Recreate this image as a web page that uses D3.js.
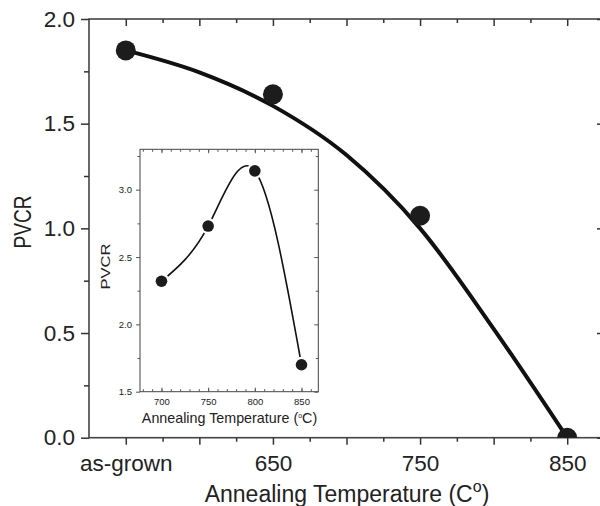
<!DOCTYPE html>
<html>
<head>
<meta charset="utf-8">
<script src="https://cdn.jsdelivr.net/npm/d3@7"></script>
<style>
  body { margin: 0; background: #fff; }
  svg { display: block; font-family: "Liberation Sans", Arial, sans-serif; }
  .axis path { display: none; }
  .axis line { stroke: #333; stroke-width: 1.5; }
  .axis text { fill: #222; }
</style>
</head>
<body>
<svg></svg>
<script>
// chart values
var mainTemps = [550, 650, 750, 850];          // 550 stands for "as-grown"
var mainPVCR = [1.85, 1.64, 1.06, 0.0];

// fitted trend line, read at a few points along the drawn curve
var fitTemps = [550, 600, 650, 700, 750, 800, 850];
var fitPVCR = [1.85, 1.745, 1.585, 1.35, 1.00, 0.52, 0.0];

var mainXTicks = [550, 650, 750, 850];
var mainXLabels = ["as-grown", "650", "750", "850"];
var mainYTicks = [0.0, 0.5, 1.0, 1.5, 2.0];

// inset
var insetTemps = [700, 750, 800, 850];
var insetPVCR = [2.32, 2.73, 3.14, 1.70];
var insetXTicks = [700, 750, 800, 850];
var insetYTicks = [1.5, 2.0, 2.5, 3.0];

var screenWidth = 600,
    screenHeight = 506,
    margin = {"top": 19, "left": 89, "bottom": 437.7, "right": 604};

var svg = d3.select("svg")
            .attr("width", screenWidth)
            .attr("height", screenHeight);

// main scales
var xScale = d3.scaleLinear().domain([525, 875]).range([margin.left, margin.right]),
    yScale = d3.scaleLinear().domain([0, 2]).range([margin.bottom, margin.top]);

svg.append("clipPath")
   .attr("id", "plotClip")
   .append("rect")
   .attr("x", margin.left)
   .attr("y", margin.top)
   .attr("width", margin.right - margin.left)
   .attr("height", margin.bottom - margin.top);

// frame
svg.append("rect")
   .attr("x", margin.left)
   .attr("y", margin.top)
   .attr("width", margin.right - margin.left)
   .attr("height", margin.bottom - margin.top)
   .attr("fill", "none")
   .attr("stroke", "#444")
   .attr("stroke-width", 1.6);

var labelFor = function(d) {
  var i = mainXTicks.indexOf(d);
  return i < 0 ? "" : mainXLabels[i];
};

// bottom axis: major every 50, minor every 25
svg.append("g")
   .attr("class", "axis")
   .attr("transform", "translate(0," + margin.bottom + ")")
   .call(d3.axisBottom(xScale).tickValues(d3.range(575, 851, 50)).tickSize(4).tickFormat(""));
svg.append("g")
   .attr("class", "axis")
   .attr("transform", "translate(0," + margin.bottom + ")")
   .call(d3.axisBottom(xScale).tickValues(d3.range(550, 851, 50)).tickSize(7).tickPadding(10).tickFormat(labelFor))
   .selectAll("text").style("font-size", "22.5px");

// top axis, ticks inward
svg.append("g")
   .attr("class", "axis")
   .attr("transform", "translate(0," + margin.top + ")")
   .call(d3.axisTop(xScale).tickValues(d3.range(575, 851, 50)).tickSize(-4).tickFormat(""));
svg.append("g")
   .attr("class", "axis")
   .attr("transform", "translate(0," + margin.top + ")")
   .call(d3.axisTop(xScale).tickValues(d3.range(550, 851, 50)).tickSize(-7).tickFormat(""));

// left axis
svg.append("g")
   .attr("class", "axis")
   .attr("transform", "translate(" + margin.left + ",0)")
   .call(d3.axisLeft(yScale).tickValues(d3.range(0.25, 2, 0.5)).tickSize(5).tickFormat(""));
svg.append("g")
   .attr("class", "axis")
   .attr("transform", "translate(" + margin.left + ",0)")
   .call(d3.axisLeft(yScale).tickValues(mainYTicks).tickSize(8).tickPadding(6).tickFormat(d3.format(".1f")))
   .selectAll("text").style("font-size", "22.5px");

// right axis, ticks inward
svg.append("g")
   .attr("class", "axis")
   .attr("transform", "translate(" + margin.right + ",0)")
   .call(d3.axisRight(yScale).tickValues(d3.range(0.25, 2, 0.5)).tickSize(-4).tickFormat(""));
svg.append("g")
   .attr("class", "axis")
   .attr("transform", "translate(" + margin.right + ",0)")
   .call(d3.axisRight(yScale).tickValues(mainYTicks).tickSize(-7).tickFormat(""));

// axis titles
svg.append("text")
   .attr("x", 347)
   .attr("y", 502)
   .attr("text-anchor", "middle")
   .style("font-size", "23px")
   .attr("fill", "#222")
   .text("Annealing Temperature (C")
   .append("tspan")
   .attr("dy", -10)
   .style("font-size", "16px")
   .text("o")
   .select(function() { return this.parentNode; })
   .append("tspan")
   .attr("dy", 10)
   .text(")");

svg.append("text")
   .attr("transform", "translate(31,222) rotate(-90)")
   .attr("text-anchor", "middle")
   .attr("textLength", 53)
   .attr("lengthAdjust", "spacingAndGlyphs")
   .style("font-size", "24px")
   .attr("fill", "#222")
   .text("PVCR");

// fitted curve and points
var plot = svg.append("g").attr("clip-path", "url(#plotClip)");

var fitData = fitTemps.map(function(t, i) { return {t: t, v: fitPVCR[i]}; });
var line = d3.line()
             .x(function(d) { return xScale(d.t); })
             .y(function(d) { return yScale(d.v); })
             .curve(d3.curveMonotoneX);

plot.append("path")
    .datum(fitData)
    .attr("d", line)
    .attr("fill", "none")
    .attr("stroke", "#111")
    .attr("stroke-width", 4);

plot.selectAll("circle.dot")
    .data(mainTemps)
    .enter().append("circle")
    .attr("class", "dot")
    .attr("r", 10)
    .attr("cx", function(d) { return xScale(d); })
    .attr("cy", function(d, i) { return yScale(mainPVCR[i]); })
    .attr("fill", "#1c1c1c");

// ---- inset ----
var inset = {"left": 140, "right": 318.3, "top": 149.3, "bottom": 391.7};

var ixScale = d3.scaleLinear().domain([677, 868]).range([inset.left, inset.right]),
    iyScale = d3.scaleLinear().domain([1.5, 3.3]).range([inset.bottom, inset.top]);

svg.append("rect")
   .attr("x", inset.left)
   .attr("y", inset.top)
   .attr("width", inset.right - inset.left)
   .attr("height", inset.bottom - inset.top)
   .attr("fill", "#fff")
   .attr("stroke", "#444")
   .attr("stroke-width", 1);

var ig = svg.append("g");

ig.append("g")
  .attr("class", "axis inset-axis")
  .attr("transform", "translate(0," + inset.bottom + ")")
  .call(d3.axisBottom(ixScale).tickValues(d3.range(680, 861, 10)).tickSize(-2.5).tickFormat(""));
ig.append("g")
  .attr("class", "axis inset-axis")
  .attr("transform", "translate(0," + inset.bottom + ")")
  .call(d3.axisBottom(ixScale).tickValues(insetXTicks).tickSize(-4).tickPadding(7).tickFormat(d3.format("d")));
ig.append("g")
  .attr("class", "axis inset-axis")
  .attr("transform", "translate(0," + inset.top + ")")
  .call(d3.axisTop(ixScale).tickValues(d3.range(680, 861, 10)).tickSize(-2.5).tickFormat(""));
ig.append("g")
  .attr("class", "axis inset-axis")
  .attr("transform", "translate(0," + inset.top + ")")
  .call(d3.axisTop(ixScale).tickValues(insetXTicks).tickSize(-4).tickFormat(""));
ig.append("g")
  .attr("class", "axis inset-axis")
  .attr("transform", "translate(" + inset.left + ",0)")
  .call(d3.axisLeft(iyScale).tickValues(d3.range(1.75, 3.3, 0.5)).tickSize(2.5).tickFormat(""));
ig.append("g")
  .attr("class", "axis inset-axis")
  .attr("transform", "translate(" + inset.left + ",0)")
  .call(d3.axisLeft(iyScale).tickValues(insetYTicks).tickSize(4).tickPadding(4).tickFormat(d3.format(".1f")));
ig.append("g")
  .attr("class", "axis inset-axis")
  .attr("transform", "translate(" + inset.right + ",0)")
  .call(d3.axisRight(iyScale).tickValues(d3.range(1.75, 3.3, 0.5)).tickSize(-2.5).tickFormat(""));
ig.append("g")
  .attr("class", "axis inset-axis")
  .attr("transform", "translate(" + inset.right + ",0)")
  .call(d3.axisRight(iyScale).tickValues(insetYTicks).tickSize(-4).tickFormat(""));

ig.selectAll(".inset-axis line").style("stroke-width", 1).style("stroke", "#555");
ig.selectAll(".inset-axis text").style("font-size", "9.5px").attr("fill", "#333");

ig.append("text")
  .attr("x", 229.5)
  .attr("y", 423.3)
  .attr("text-anchor", "middle")
  .style("font-size", "14.3px")
  .attr("fill", "#222")
  .text("Annealing Temperature (")
  .append("tspan")
  .attr("dy", -5)
  .style("font-size", "7px")
  .text("o")
  .select(function() { return this.parentNode; })
  .append("tspan")
  .attr("dy", 5)
  .text("C)");

ig.append("text")
  .attr("transform", "translate(109.5,266.5) rotate(-90)")
  .attr("text-anchor", "middle")
  .attr("textLength", 46)
  .attr("lengthAdjust", "spacingAndGlyphs")
  .style("font-size", "13.5px")
  .attr("fill", "#222")
  .text("PVCR");

var insetData = insetTemps.map(function(t, i) { return {t: t, v: insetPVCR[i]}; });
var insetLine = d3.line()
                  .x(function(d) { return ixScale(d.t); })
                  .y(function(d) { return iyScale(d.v); })
                  .curve(d3.curveNatural);

ig.append("path")
  .datum(insetData)
  .attr("d", insetLine)
  .attr("fill", "none")
  .attr("stroke", "#111")
  .attr("stroke-width", 1.6);

// white halo so the line stops short of each symbol
ig.selectAll("circle.halo")
  .data(insetData)
  .enter().append("circle")
  .attr("class", "halo")
  .attr("r", 8)
  .attr("cx", function(d) { return ixScale(d.t); })
  .attr("cy", function(d) { return iyScale(d.v); })
  .attr("fill", "#fff");

ig.selectAll("circle.idot")
  .data(insetData)
  .enter().append("circle")
  .attr("class", "idot")
  .attr("r", 5.8)
  .attr("cx", function(d) { return ixScale(d.t); })
  .attr("cy", function(d) { return iyScale(d.v); })
  .attr("fill", "#1c1c1c");
</script>
</body>
</html>
